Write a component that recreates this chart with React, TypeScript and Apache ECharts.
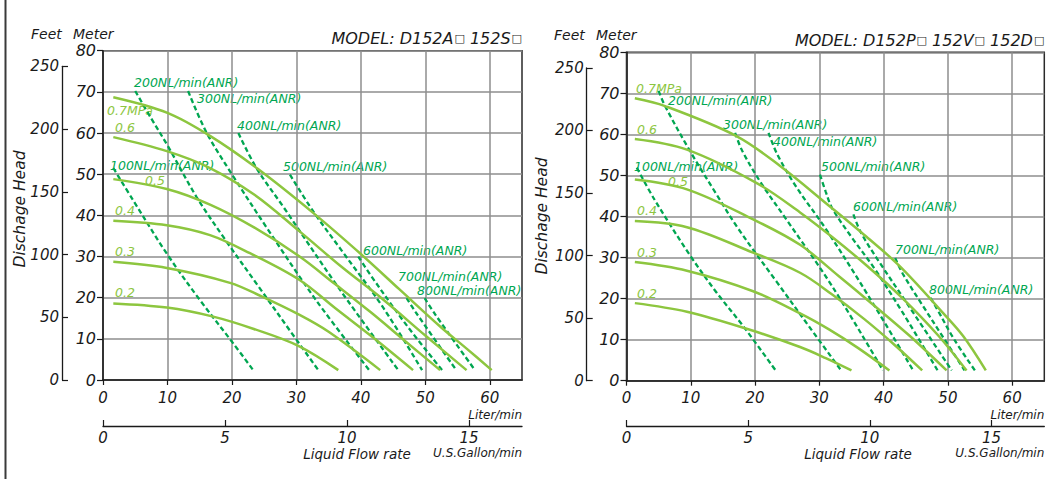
import { useEffect, useRef } from "react";
import * as echarts from "echarts";

type Pt = [number, number];

// ---- axis ranges and tick values ----
const FLOW_MAX = 65; // Liter/min
const HEAD_MAX = 80; // Meter
const LITER_PER_GALLON = 3.78541;
const METER_PER_FOOT = 0.3048;
const literTicks = [0, 10, 20, 30, 40, 50, 60];
const gallonTicks = [0, 5, 10, 15];
const feetMax = 250;

const pressureNames = ["0.7MPa", "0.6", "0.5", "0.4", "0.3", "0.2"];
const airNames = [
  "100NL/min(ANR)",
  "200NL/min(ANR)",
  "300NL/min(ANR)",
  "400NL/min(ANR)",
  "500NL/min(ANR)",
  "600NL/min(ANR)",
  "700NL/min(ANR)",
  "800NL/min(ANR)",
];

// ---- D152A / 152S : head vs. flow at each supply pressure ----
const aP07: Pt[] = [[1.6, 68.7], [10, 64.9], [16.6, 59.3], [24, 51.3], [32.6, 40.6], [40, 30.6], [46, 22.0], [52.3, 13.0], [56.5, 7.5], [60.3, 2.4]];
const aP06: Pt[] = [[1.6, 59.0], [9.9, 55.6], [16.6, 51.5], [23.5, 45], [30.5, 36.1], [37, 27.5], [43.5, 19.5], [50, 10.8], [56.4, 2.4]];
const aP05: Pt[] = [[1.6, 48.8], [9.9, 46.4], [16.6, 42.6], [23.5, 37], [30.5, 30.0], [36, 23.3], [41.5, 16.5], [47, 9.3], [52.3, 2.4]];
const aP04: Pt[] = [[1.6, 38.7], [9.9, 37.6], [16.6, 35.2], [22.8, 30.8], [30.5, 24.3], [36, 17.5], [42, 10.2], [48.1, 2.4]];
const aP03: Pt[] = [[1.6, 28.7], [9.9, 27.2], [19.7, 23.6], [24.6, 20.3], [30.5, 15.8], [35, 11.7], [43.0, 2.4]];
const aP02: Pt[] = [[1.6, 18.6], [9.9, 17.6], [17.1, 15.4], [23.4, 12.4], [30.3, 8.3], [36.5, 2.4]];

// ---- D152A / 152S : air consumption lines ----
const aA100: Pt[] = [[1.6, 51.5], [4.7, 43.6], [9.9, 30.7], [15, 19.5], [20.2, 8.9], [23.3, 2.4]];
const aA200: Pt[] = [[5.0, 70.2], [7.5, 63.5], [10, 57], [14.5, 44.5], [19, 34], [24, 23], [29, 12], [33.4, 2.4]];
const aA300: Pt[] = [[13.2, 70.2], [16.1, 60], [20.2, 49.5], [25.4, 37], [33, 19.5], [41.3, 2.4]];
const aA400: Pt[] = [[21, 60], [23.8, 51.5], [28, 42], [36.5, 22.5], [45.8, 2.4]];
const aA500: Pt[] = [[29, 49.9], [32.6, 41], [37, 31.5], [43.5, 17.5], [49.5, 2.4]];
const aA600: Pt[] = [[39.6, 30], [41.5, 25.5], [47, 13.5], [52.6, 2.4]];
const aA700: Pt[] = [[47.1, 19.9], [48.5, 16.5], [54.8, 2.4]];
const aA800: Pt[] = [[49.9, 19.9], [51.5, 16], [57.7, 2.4]];

// ---- D152P / 152V / 152D : head vs. flow at each supply pressure ----
const bP07: Pt[] = [[1.3, 68.8], [6, 66.9], [17.1, 59.6], [23.9, 52.3], [31.6, 42.5], [37, 35.5], [42.5, 27.9], [49.3, 16.4], [52.4, 10.8], [55.9, 2.5]];
const bP06: Pt[] = [[1.3, 58.9], [9.4, 56.3], [20.2, 48.2], [27, 41.0], [32, 35], [37.4, 28], [43, 20], [48.5, 11], [52.9, 2.5]];
const bP05: Pt[] = [[1.3, 49.0], [9.4, 46.6], [19.7, 39.3], [27, 33.1], [33, 25.5], [38, 19], [44, 11], [49.8, 2.5]];
const bP04: Pt[] = [[1.3, 38.9], [9.4, 37.4], [19.7, 31.2], [27, 26.3], [32, 21], [37, 15], [41.5, 9], [46, 2.5]];
const bP03: Pt[] = [[1.3, 28.9], [9.4, 26.8], [19.7, 21.8], [27, 16.4], [31.5, 12.5], [36, 8], [40.9, 2.5]];
const bP02: Pt[] = [[1.3, 18.9], [9.4, 16.8], [19.2, 12.4], [27, 8.2], [31, 5.5], [35, 2.5]];

// ---- D152P / 152V / 152D : air consumption lines ----
const bA100: Pt[] = [[1.6, 51.9], [4.4, 44.0], [9.9, 30.5], [14, 21.5], [18.2, 13.2], [23.2, 2.5]];
const bA200: Pt[] = [[5, 70.6], [6, 66.9], [9.9, 55.9], [14, 45.4], [17.4, 37], [23.4, 24], [28.5, 13], [33.4, 2.5]];
const bA300: Pt[] = [[16.9, 60.4], [18, 56], [21, 48], [25, 39], [32, 23], [39.9, 2.5]];
const bA400: Pt[] = [[22.1, 60.4], [23.5, 55], [26.5, 47], [31, 37], [37.5, 21], [44.6, 2.5]];
const bA500: Pt[] = [[30.1, 50.2], [31.0, 46], [32, 42], [35, 35], [38.5, 27.5], [43, 16.5], [48.4, 2.5]];
const bA600: Pt[] = [[35.3, 40.5], [36.5, 36], [39.5, 28.5], [44, 18], [50.6, 2.5]];
const bA700: Pt[] = [[41.8, 29.9], [43, 26], [46, 18.5], [49.5, 10], [52.6, 2.5]];
const bA800: Pt[] = [[47.3, 20.2], [48.3, 17.5], [51, 10], [54.2, 2.5]];

const leftPressure = [aP07, aP06, aP05, aP04, aP03, aP02];
const leftAir = [aA100, aA200, aA300, aA400, aA500, aA600, aA700, aA800];
const rightPressure = [bP07, bP06, bP05, bP04, bP03, bP02];
const rightAir = [bA100, bA200, bA300, bA400, bA500, bA600, bA700, bA800];

// ---- styling ----
const PRESSURE_COLOR = "#8dc63f";
const AIR_COLOR = "#00a651";
const INK = "#1a1a1a";
const GRID_GRAY = "#8e8e8e";
const FONT = "DejaVu Sans";

interface Panel {
  model: string[];
  plot: { left: number; top: number; width: number; height: number };
  feetLeft: number;
  gallonLine: number;
  pressure: Pt[][];
  air: Pt[][];
  pressureLabelPos: [number, number][];
  airLabelPos: [number, number][];
  feetMeterPos: [number, number, number];
  headLabelPos: [number, number];
  flowLabelX: number;
  titleY: number;
}

const panels: Panel[] = [
  {
    model: ["D152A", "152S"],
    plot: { left: 103, top: 50.7, width: 419, height: 329.3 },
    feetLeft: 62,
    gallonLine: 426,
    pressure: leftPressure,
    air: leftAir,
    pressureLabelPos: [[107, 110], [115, 127.5], [145, 180], [115, 210], [115, 251.5], [115, 292.5]],
    airLabelPos: [[110, 165], [134, 82.5], [197, 98.5], [237, 125], [283, 166.5], [363, 250], [398, 276.5], [417, 290]],
    feetMeterPos: [31, 73, 34],
    headLabelPos: [20, 209],
    flowLabelX: 357,
    titleY: 38.5,
  },
  {
    model: ["D152P", "152V", "152D"],
    plot: { left: 626.5, top: 52.3, width: 417.8, height: 328.4 },
    feetLeft: 586.7,
    gallonLine: 426,
    pressure: rightPressure,
    air: rightAir,
    pressureLabelPos: [[636, 88.5], [637, 129.5], [668, 181], [637, 210.5], [637, 252], [637, 293]],
    airLabelPos: [[634, 166.5], [668, 100.5], [723, 124.5], [773, 141], [821, 166.5], [853, 206.5], [895, 249], [929, 289.5]],
    feetMeterPos: [554, 596, 35],
    headLabelPos: [542, 216],
    flowLabelX: 858,
    titleY: 40,
  },
];

function text(
  t: string,
  x: number,
  y: number,
  size: number,
  color: string,
  align: "left" | "center" | "right" = "left",
  rotation = 0,
  rich?: any
) {
  return {
    type: "text",
    x,
    y,
    rotation,
    silent: true,
    style: {
      text: t,
      fill: color,
      font: `italic ${size}px "${FONT}"`,
      fontSize: size,
      fontFamily: FONT,
      fontStyle: "italic",
      textAlign: align,
      textVerticalAlign: "middle",
      align,
      verticalAlign: "middle",
      ...(rich ? { rich } : {}),
    },
  };
}

function buildOption() {
  const grid: any[] = [];
  const xAxis: any[] = [];
  const yAxis: any[] = [];
  const series: any[] = [];
  const graphic: any[] = [];

  const labelFont = { fontFamily: FONT, fontStyle: "italic", color: INK };

  panels.forEach((p, i) => {
    const g0 = i * 3;
    const { left, top, width, height } = p.plot;
    const bottom = top + height;
    const feetHeight = height * ((feetMax * METER_PER_FOOT) / HEAD_MAX);

    // main plot
    grid.push({
      left,
      top,
      width,
      height,
      show: true,
      borderColor: "#2a2a2a",
      borderWidth: 1.5,
      backgroundColor: "transparent",
      containLabel: false,
      outerBoundsMode: "none",
    });
    // feet scale
    grid.push({
      left: p.feetLeft,
      top: bottom - feetHeight,
      width: 1,
      height: feetHeight,
      containLabel: false,
      outerBoundsMode: "none",
    });
    // gallon scale
    grid.push({
      left,
      top: p.gallonLine - 1,
      width,
      height: 1,
      containLabel: false,
      outerBoundsMode: "none",
    });

    xAxis.push({
      gridIndex: g0,
      type: "value",
      min: 0,
      max: FLOW_MAX,
      interval: 10,
      axisLine: { show: true, onZero: false, lineStyle: { color: INK, width: 1.5 } },
      axisTick: { show: true, length: 5, customValues: literTicks, lineStyle: { color: INK, width: 1.2 } },
      axisLabel: { ...labelFont, fontSize: 15, margin: 10, customValues: literTicks },
      splitLine: { show: true, lineStyle: { color: GRID_GRAY, width: 1.5 } },
    });
    xAxis.push({ gridIndex: g0 + 1, type: "value", min: 0, max: 1, show: false });
    xAxis.push({
      gridIndex: g0 + 2,
      type: "value",
      position: "bottom",
      min: 0,
      max: FLOW_MAX / LITER_PER_GALLON,
      interval: 5,
      axisLine: { show: true, onZero: false, lineStyle: { color: INK, width: 1.3 } },
      axisTick: { show: true, inside: true, length: 6, customValues: gallonTicks, lineStyle: { color: INK, width: 1.2 } },
      axisLabel: { ...labelFont, fontSize: 15, margin: 4, customValues: gallonTicks },
      splitLine: { show: false },
    });

    yAxis.push({
      gridIndex: g0,
      type: "value",
      min: 0,
      max: HEAD_MAX,
      interval: 10,
      axisLine: { show: true, onZero: false, lineStyle: { color: INK, width: 1.5 } },
      axisTick: { show: true, length: 6, lineStyle: { color: INK, width: 1.2 } },
      axisLabel: { ...labelFont, fontSize: 16, margin: 7 },
      splitLine: { show: true, lineStyle: { color: GRID_GRAY, width: 1.5 } },
    });
    yAxis.push({
      gridIndex: g0 + 1,
      type: "value",
      min: 0,
      max: feetMax,
      interval: 50,
      axisLine: { show: true, onZero: false, lineStyle: { color: INK, width: 1.3 } },
      axisTick: { show: true, inside: true, length: 6, lineStyle: { color: INK, width: 1.2 } },
      axisLabel: { ...labelFont, fontSize: 15, margin: 3 },
      splitLine: { show: false },
    });
    yAxis.push({ gridIndex: g0 + 2, type: "value", min: 0, max: 1, show: false });

    p.air.forEach((pts, k) => {
      series.push({
        name: `${airNames[k]}-${i}`,
        type: "line",
        xAxisIndex: g0,
        yAxisIndex: g0,
        data: pts,
        showSymbol: false,
        smooth: 0.35,
        silent: true,
        z: 3,
        lineStyle: { color: AIR_COLOR, width: 2.3, type: [5, 3] },
      });
    });
    p.pressure.forEach((pts, k) => {
      series.push({
        name: `${pressureNames[k]}-${i}`,
        type: "line",
        xAxisIndex: g0,
        yAxisIndex: g0,
        data: pts,
        showSymbol: false,
        smooth: 0.35,
        silent: true,
        z: 4,
        lineStyle: { color: PRESSURE_COLOR, width: 2.5 },
      });
    });

    // curve labels
    p.pressureLabelPos.forEach(([x, y], k) => graphic.push(text(pressureNames[k], x, y, 12.5, PRESSURE_COLOR)));
    p.airLabelPos.forEach(([x, y], k) => graphic.push(text(airNames[k], x, y, 12.5, AIR_COLOR)));

    // model title, with the small option boxes
    const right = left + width;
    const titleText = "MODEL: " + p.model.map((m) => `${m}{box|\u25a1}`).join(" ");
    graphic.push(
      text(titleText, right, p.titleY, 16, INK, "right", 0, {
        box: { fontSize: 11, fontFamily: FONT, fill: INK, color: INK, padding: [0, 0, 0, 1] },
      })
    );
    graphic.push(text("Feet", p.feetMeterPos[0], p.feetMeterPos[2], 14, INK));
    graphic.push(text("Meter", p.feetMeterPos[1], p.feetMeterPos[2], 14, INK));
    graphic.push(text("Dischage Head", p.headLabelPos[0], p.headLabelPos[1], 15.5, INK, "center", Math.PI / 2));
    graphic.push(text("Liter/min", right, 414.5, 12, INK, "right"));
    graphic.push(text("Liquid Flow rate", p.flowLabelX, 453.5, 13.5, INK, "center"));
    graphic.push(text("U.S.Gallon/min", right, 453, 12, INK, "right"));
  });

  // left frame rule
  graphic.push({
    type: "line",
    silent: true,
    shape: { x1: 5.5, y1: 0, x2: 5.5, y2: 479 },
    style: { stroke: "#3a3a3a", lineWidth: 2 },
  });

  return {
    animation: false,
    backgroundColor: "#ffffff",
    grid,
    xAxis,
    yAxis,
    series,
    graphic: { elements: graphic },
  };
}

export default function App() {
  const ref = useRef<HTMLDivElement>(null);
  useEffect(() => {
    if (!ref.current) return;
    const chart = echarts.init(ref.current, undefined, { renderer: "svg" });
    chart.setOption(buildOption() as any);
    return () => chart.dispose();
  }, []);
  return (
    <div
      ref={ref}
      style={{ position: "fixed", left: 0, top: 0, width: 1053, height: 479, background: "#fff" }}
    />
  );
}
